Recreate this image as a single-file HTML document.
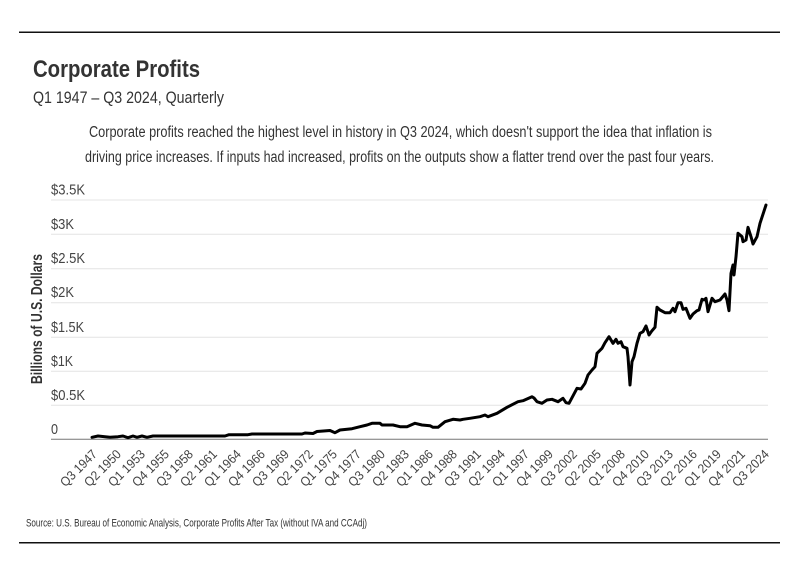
<!DOCTYPE html>
<html><head><meta charset="utf-8"><style>
html,body{margin:0;padding:0;background:#fff;}
svg{display:block;}
text{font-family:"Liberation Sans Narrow","Liberation Sans",sans-serif;}
</style></head><body>
<svg width="799" height="575" viewBox="0 0 799 575" xmlns="http://www.w3.org/2000/svg">
<rect width="799" height="575" fill="#fff"/>
<line x1="19" y1="32.3" x2="780" y2="32.3" stroke="#111" stroke-width="1.5"/>
<line x1="19" y1="542.7" x2="780" y2="542.7" stroke="#111" stroke-width="1.5"/>

<text x="33" y="77" font-size="24" font-weight="bold" fill="#333" textLength="167" lengthAdjust="spacingAndGlyphs">Corporate Profits</text>
<text x="33" y="103" font-size="16.2" fill="#333" textLength="191" lengthAdjust="spacingAndGlyphs">Q1 1947 – Q3 2024, Quarterly</text>
<text x="89" y="137" font-size="15.5" fill="#333" textLength="623" lengthAdjust="spacingAndGlyphs">Corporate profits reached the highest level in history in Q3 2024, which doesn't support the idea that inflation is</text>
<text x="85" y="162" font-size="15.5" fill="#333" textLength="629" lengthAdjust="spacingAndGlyphs">driving price increases. If inputs had increased, profits on the outputs show a flatter trend over the past four years.</text>

<g stroke="#e4e4e4" stroke-width="1">
<line x1="51" y1="200" x2="768" y2="200"/>
<line x1="51" y1="234.3" x2="768" y2="234.3"/>
<line x1="51" y1="268.7" x2="768" y2="268.7"/>
<line x1="51" y1="302.7" x2="768" y2="302.7"/>
<line x1="51" y1="337.3" x2="768" y2="337.3"/>
<line x1="51" y1="371.3" x2="768" y2="371.3"/>
<line x1="51" y1="405.3" x2="768" y2="405.3"/>
</g>
<line x1="51" y1="439.3" x2="768" y2="439.3" stroke="#777" stroke-width="1"/>

<g font-size="15" fill="#444">
<text x="51" y="194.5" textLength="34" lengthAdjust="spacingAndGlyphs">$3.5K</text>
<text x="51" y="228.8" textLength="23" lengthAdjust="spacingAndGlyphs">$3K</text>
<text x="51" y="263.2" textLength="34" lengthAdjust="spacingAndGlyphs">$2.5K</text>
<text x="51" y="297.2" textLength="23" lengthAdjust="spacingAndGlyphs">$2K</text>
<text x="51" y="331.8" textLength="33" lengthAdjust="spacingAndGlyphs">$1.5K</text>
<text x="51" y="365.8" textLength="22" lengthAdjust="spacingAndGlyphs">$1K</text>
<text x="51" y="399.8" textLength="34" lengthAdjust="spacingAndGlyphs">$0.5K</text>
<text x="51" y="433.8" textLength="7" lengthAdjust="spacingAndGlyphs">0</text>
</g>

<text transform="translate(42,319) rotate(-90)" text-anchor="middle" font-size="16" font-weight="bold" fill="#333" textLength="130" lengthAdjust="spacingAndGlyphs">Billions of U.S. Dollars</text>

<polyline fill="none" stroke="#000" stroke-width="3" stroke-linejoin="round" stroke-linecap="round" points="92,437.3 98,436 105,436.7 110,437.3 118,436.7 123,436 128,437.7 133,436 137,437.3 142,436 147,437.3 153,436 225,436 229,434.7 248,434.7 252,434 302,434 305,433 313,433.5 317,431.5 330,430.5 335,432.7 340,430 352,428.7 360,426.7 367,425 372,423.3 380,423.3 382,425 393,425 400,426.7 407,426.7 415,423.3 422,425 430,425.7 433,427.3 438,427.3 445,421.7 453,419.3 460,420 463,419.3 470,418.3 480,416.7 485,415 488,416.7 497,413.3 507,407.3 518,401.7 523,400.7 532,396.7 534,398 537,401.7 542,403.3 547,400 552,399.3 558,401.7 563,398.3 566,402.7 569,403.3 577,388.3 581,389 585,383.3 588,375 592,370 595,366.7 597,353.3 602,348.3 605,342.7 609,336.7 613,343.3 616,339.3 618,343.3 621,341.7 623,346.7 627,348.3 628,356.7 630,385 632,361.7 634,356.7 637,343.3 640,333.3 643,331.7 646,326 649,335 652,330.7 655,327.3 657,307.3 660,310 665,312.7 670,312.7 673,308.3 675,311.7 678,302.7 681,302.7 683,309.3 686,308.3 690,318.3 693,314 697,310.7 699,310 702,299.3 704,300 706,298.3 708,311.7 712,298.3 715,301.7 720,300 725,294 727,300 729,310.7 731,273.3 733,265 734,275 736,256.7 738,233.3 742,236.7 743,241.7 746,240 748,227.3 751,236.7 753,244 757,236.7 760,223.3 766,205"/>

<g font-size="13" fill="#444" text-anchor="end">
<text transform="translate(97.9,455) rotate(-45)" textLength="46" lengthAdjust="spacingAndGlyphs">Q3 1947</text>
<text transform="translate(121.9,455) rotate(-45)" textLength="46" lengthAdjust="spacingAndGlyphs">Q2 1950</text>
<text transform="translate(145.9,455) rotate(-45)" textLength="46" lengthAdjust="spacingAndGlyphs">Q1 1953</text>
<text transform="translate(169.9,455) rotate(-45)" textLength="46" lengthAdjust="spacingAndGlyphs">Q4 1955</text>
<text transform="translate(193.9,455) rotate(-45)" textLength="46" lengthAdjust="spacingAndGlyphs">Q3 1958</text>
<text transform="translate(217.9,455) rotate(-45)" textLength="46" lengthAdjust="spacingAndGlyphs">Q2 1961</text>
<text transform="translate(241.9,455) rotate(-45)" textLength="46" lengthAdjust="spacingAndGlyphs">Q1 1964</text>
<text transform="translate(265.9,455) rotate(-45)" textLength="46" lengthAdjust="spacingAndGlyphs">Q4 1966</text>
<text transform="translate(289.9,455) rotate(-45)" textLength="46" lengthAdjust="spacingAndGlyphs">Q3 1969</text>
<text transform="translate(313.9,455) rotate(-45)" textLength="46" lengthAdjust="spacingAndGlyphs">Q2 1972</text>
<text transform="translate(337.9,455) rotate(-45)" textLength="46" lengthAdjust="spacingAndGlyphs">Q1 1975</text>
<text transform="translate(361.9,455) rotate(-45)" textLength="46" lengthAdjust="spacingAndGlyphs">Q4 1977</text>
<text transform="translate(385.9,455) rotate(-45)" textLength="46" lengthAdjust="spacingAndGlyphs">Q3 1980</text>
<text transform="translate(409.9,455) rotate(-45)" textLength="46" lengthAdjust="spacingAndGlyphs">Q2 1983</text>
<text transform="translate(433.9,455) rotate(-45)" textLength="46" lengthAdjust="spacingAndGlyphs">Q1 1986</text>
<text transform="translate(457.9,455) rotate(-45)" textLength="46" lengthAdjust="spacingAndGlyphs">Q4 1988</text>
<text transform="translate(481.9,455) rotate(-45)" textLength="46" lengthAdjust="spacingAndGlyphs">Q3 1991</text>
<text transform="translate(505.9,455) rotate(-45)" textLength="46" lengthAdjust="spacingAndGlyphs">Q2 1994</text>
<text transform="translate(529.9,455) rotate(-45)" textLength="46" lengthAdjust="spacingAndGlyphs">Q1 1997</text>
<text transform="translate(553.9,455) rotate(-45)" textLength="46" lengthAdjust="spacingAndGlyphs">Q4 1999</text>
<text transform="translate(577.9,455) rotate(-45)" textLength="46" lengthAdjust="spacingAndGlyphs">Q3 2002</text>
<text transform="translate(601.9,455) rotate(-45)" textLength="46" lengthAdjust="spacingAndGlyphs">Q2 2005</text>
<text transform="translate(625.9,455) rotate(-45)" textLength="46" lengthAdjust="spacingAndGlyphs">Q1 2008</text>
<text transform="translate(649.9,455) rotate(-45)" textLength="46" lengthAdjust="spacingAndGlyphs">Q4 2010</text>
<text transform="translate(673.9,455) rotate(-45)" textLength="46" lengthAdjust="spacingAndGlyphs">Q3 2013</text>
<text transform="translate(697.9,455) rotate(-45)" textLength="46" lengthAdjust="spacingAndGlyphs">Q2 2016</text>
<text transform="translate(721.9,455) rotate(-45)" textLength="46" lengthAdjust="spacingAndGlyphs">Q1 2019</text>
<text transform="translate(745.9,455) rotate(-45)" textLength="46" lengthAdjust="spacingAndGlyphs">Q4 2021</text>
<text transform="translate(769.9,455) rotate(-45)" textLength="46" lengthAdjust="spacingAndGlyphs">Q3 2024</text>
</g>

<text x="26" y="526.5" font-size="11" fill="#333" textLength="341" lengthAdjust="spacingAndGlyphs">Source: U.S. Bureau of Economic Analysis, Corporate Profits After Tax (without IVA and CCAdj)</text>
</svg>
</body></html>
